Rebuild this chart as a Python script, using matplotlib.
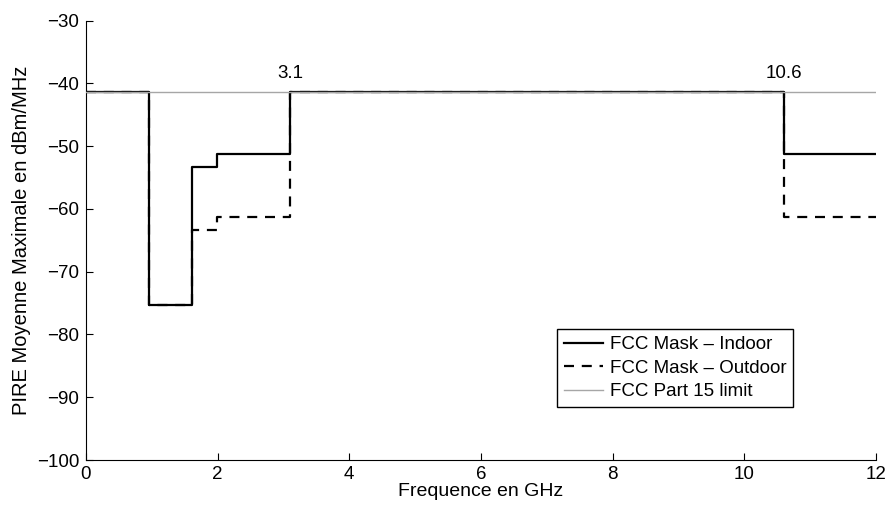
import matplotlib
matplotlib.use("Agg")
import matplotlib.pyplot as plt

plt.rcParams["font.family"] = ["Liberation Sans", "DejaVu Sans"]

# FCC UWB emission mask (GHz, dBm/MHz)
freq_edges = [0, 0.96, 1.61, 1.99, 3.1, 10.6, 12]
indoor = [-41.3, -75.3, -53.3, -51.3, -41.3, -51.3]
outdoor = [-41.3, -75.3, -63.3, -61.3, -41.3, -61.3]
part15_limit = -41.3
marks = [3.1, 10.6]


def steps(edges, vals):
    xs, ys = [], []
    for i, v in enumerate(vals):
        xs += [edges[i], edges[i + 1]]
        ys += [v, v]
    return xs, ys


fig = plt.figure(figsize=(8.9, 5.07), dpi=100)
ax = fig.add_axes([0.0966, 0.0927, 0.8876, 0.8665])

xi, yi = steps(freq_edges, indoor)
xo, yo = steps(freq_edges, outdoor)
ax.plot(xo, yo, color="black", linestyle=(0, (4.5, 3.5)), linewidth=1.6,
        label="FCC Mask \u2013 Outdoor", zorder=2)
ax.plot(xi, yi, color="black", linewidth=1.6, label="FCC Mask \u2013 Indoor", zorder=3)
ax.axhline(part15_limit, color="#a6a6a6", linewidth=1.0,
           label="FCC Part 15 limit", zorder=4)

for m in marks:
    ax.text(m, part15_limit + 1.6, f"{m:g}", ha="center", va="bottom", fontsize=13.5)

ax.set_xlim(0, 12)
ax.set_ylim(-100, -30)
ax.set_xticks(range(0, 13, 2))
ax.set_yticks(range(-100, -29, 10))
ax.set_yticklabels([f"\u2212{abs(v)}" for v in range(-100, -29, 10)])
ax.tick_params(direction="in", length=5, labelsize=13.5)
ax.tick_params(axis="y", pad=5)
ax.tick_params(axis="x", pad=4)
ax.spines["top"].set_visible(False)
ax.spines["right"].set_visible(False)
ax.set_xlabel("Frequence en GHz", fontsize=14, labelpad=0)
ax.set_ylabel("PIRE Moyenne Maximale en dBm/MHz", fontsize=14.5, labelpad=4)

h, l = ax.get_legend_handles_labels()
order = [1, 0, 2]
leg = ax.legend([h[i] for i in order], [l[i] for i in order], loc="lower right",
                bbox_to_anchor=(0.895, 0.1206), fontsize=13.5, fancybox=False,
                framealpha=1, edgecolor="black", borderpad=0.35, labelspacing=0.35,
                handlelength=2.1, handletextpad=0.35, borderaxespad=0)
leg.get_frame().set_linewidth(1.0)

fig.savefig("out.png", dpi=100)
